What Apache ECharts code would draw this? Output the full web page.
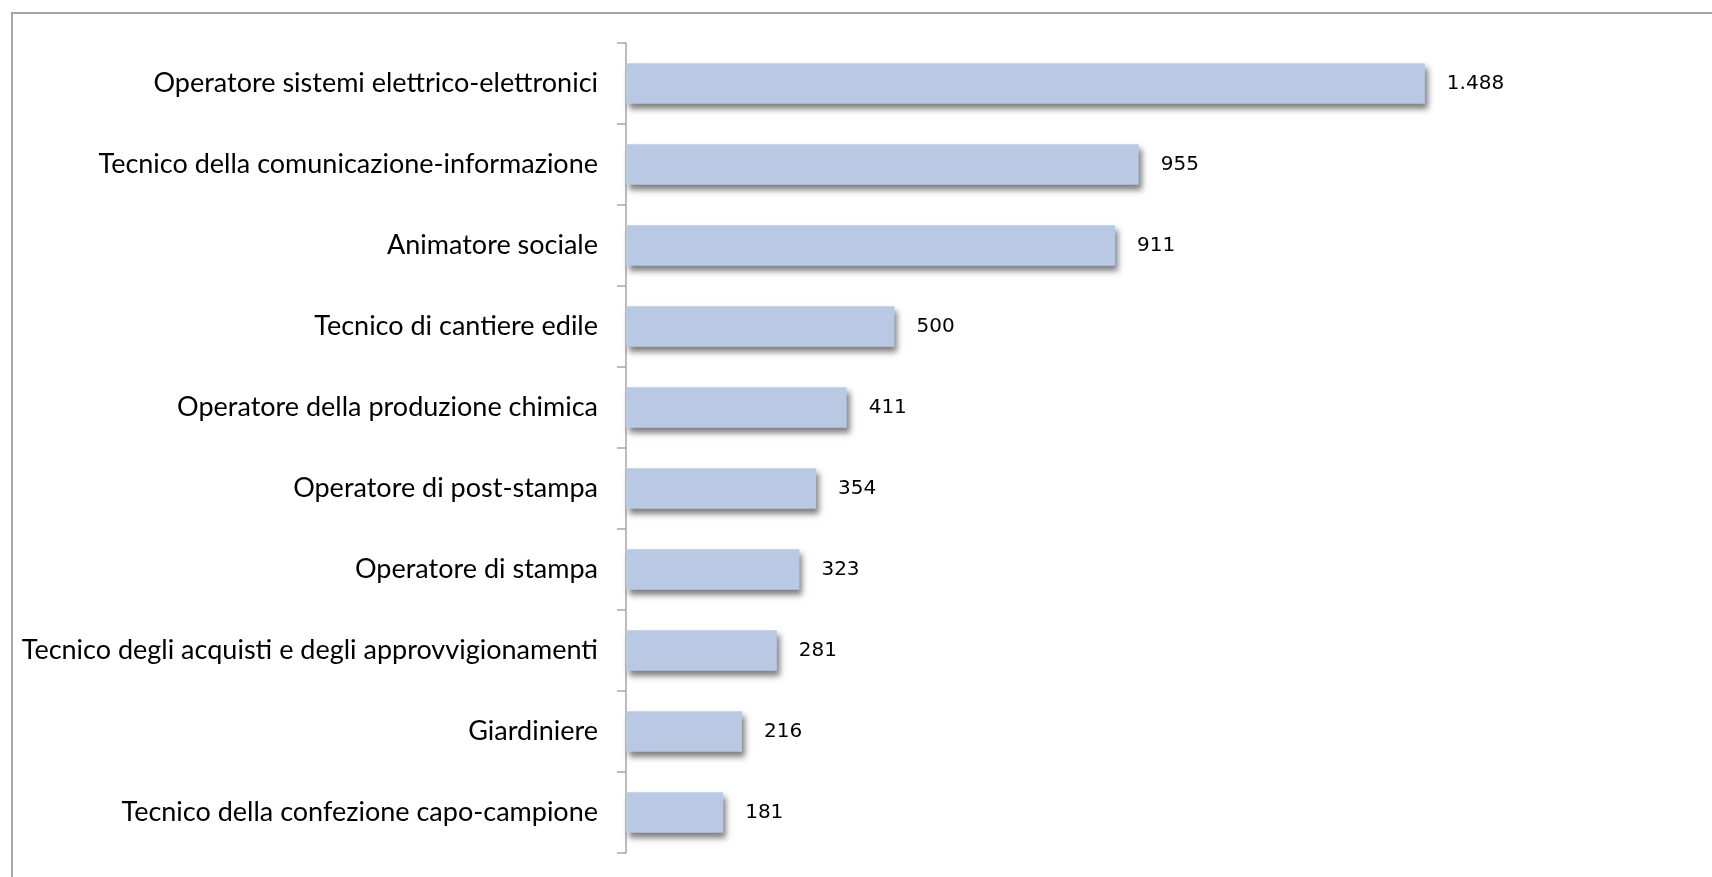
<!DOCTYPE html>
<html>
<head>
<meta charset="utf-8">
<script src="https://cdn.jsdelivr.net/npm/echarts@6/dist/echarts.min.js"></script>
<style>
html, body { margin: 0; padding: 0; background: #fff; }
#plot { width: 1712px; height: 877px; }
</style>
</head>
<body>
<div id="plot"></div>
<script>
var categories = [
	'Operatore sistemi elettrico-elettronici',
	'Tecnico della comunicazione-informazione',
	'Animatore sociale',
	'Tecnico di cantiere edile',
	'Operatore della produzione chimica',
	'Operatore di post-stampa',
	'Operatore di stampa',
	'Tecnico degli acquisti e degli approvvigionamenti',
	'Giardiniere',
	'Tecnico della confezione capo-campione'
];
var values = [1488, 955, 911, 500, 411, 354, 323, 281, 216, 181];

function formatNum (v) {
	// separatore migliaia all'italiana
	return String(v).replace(/\B(?=(\d{3})+(?!\d))/g, '.');
}

var option = {
	animation: false,
	graphic: [
		{
			type: 'rect',
			shape: { x: 12, y: 13, width: 1800, height: 900 },
			style: { fill: 'none', stroke: '#a6a6a6', lineWidth: 2 },
			silent: true
		}
	],
	grid: {
		left: 626,
		top: 43,
		width: 859,
		height: 810
	},
	xAxis: {
		type: 'value',
		min: 0,
		max: 1600,
		show: false
	},
	yAxis: {
		type: 'category',
		inverse: true,
		data: categories,
		axisLine: { show: true, lineStyle: { color: '#a6a6a6', width: 1.5 } },
		axisTick: { show: true, length: 9, lineStyle: { color: '#a6a6a6', width: 1.5 } },
		axisLabel: {
			margin: 28,
			color: '#000',
			fontFamily: 'Lato',
			fontSize: 27
		},
		splitLine: { show: false }
	},
	series: [
		{
			type: 'bar',
			data: values,
			barCategoryGap: '50%',
			itemStyle: {
				color: '#b9c9e3',
				shadowColor: 'rgba(0,0,0,0.5)',
				shadowBlur: 6,
				shadowOffsetX: 3,
				shadowOffsetY: 5
			},
			label: {
				show: true,
				position: 'right',
				distance: 22,
				color: '#000',
				fontFamily: 'DejaVu Sans',
				fontSize: 20,
				formatter: function (p) { return formatNum(p.value); }
			}
		}
	]
};

var myChart = echarts.init(document.getElementById('plot'));
myChart.setOption(option);
</script>
</body>
</html>
